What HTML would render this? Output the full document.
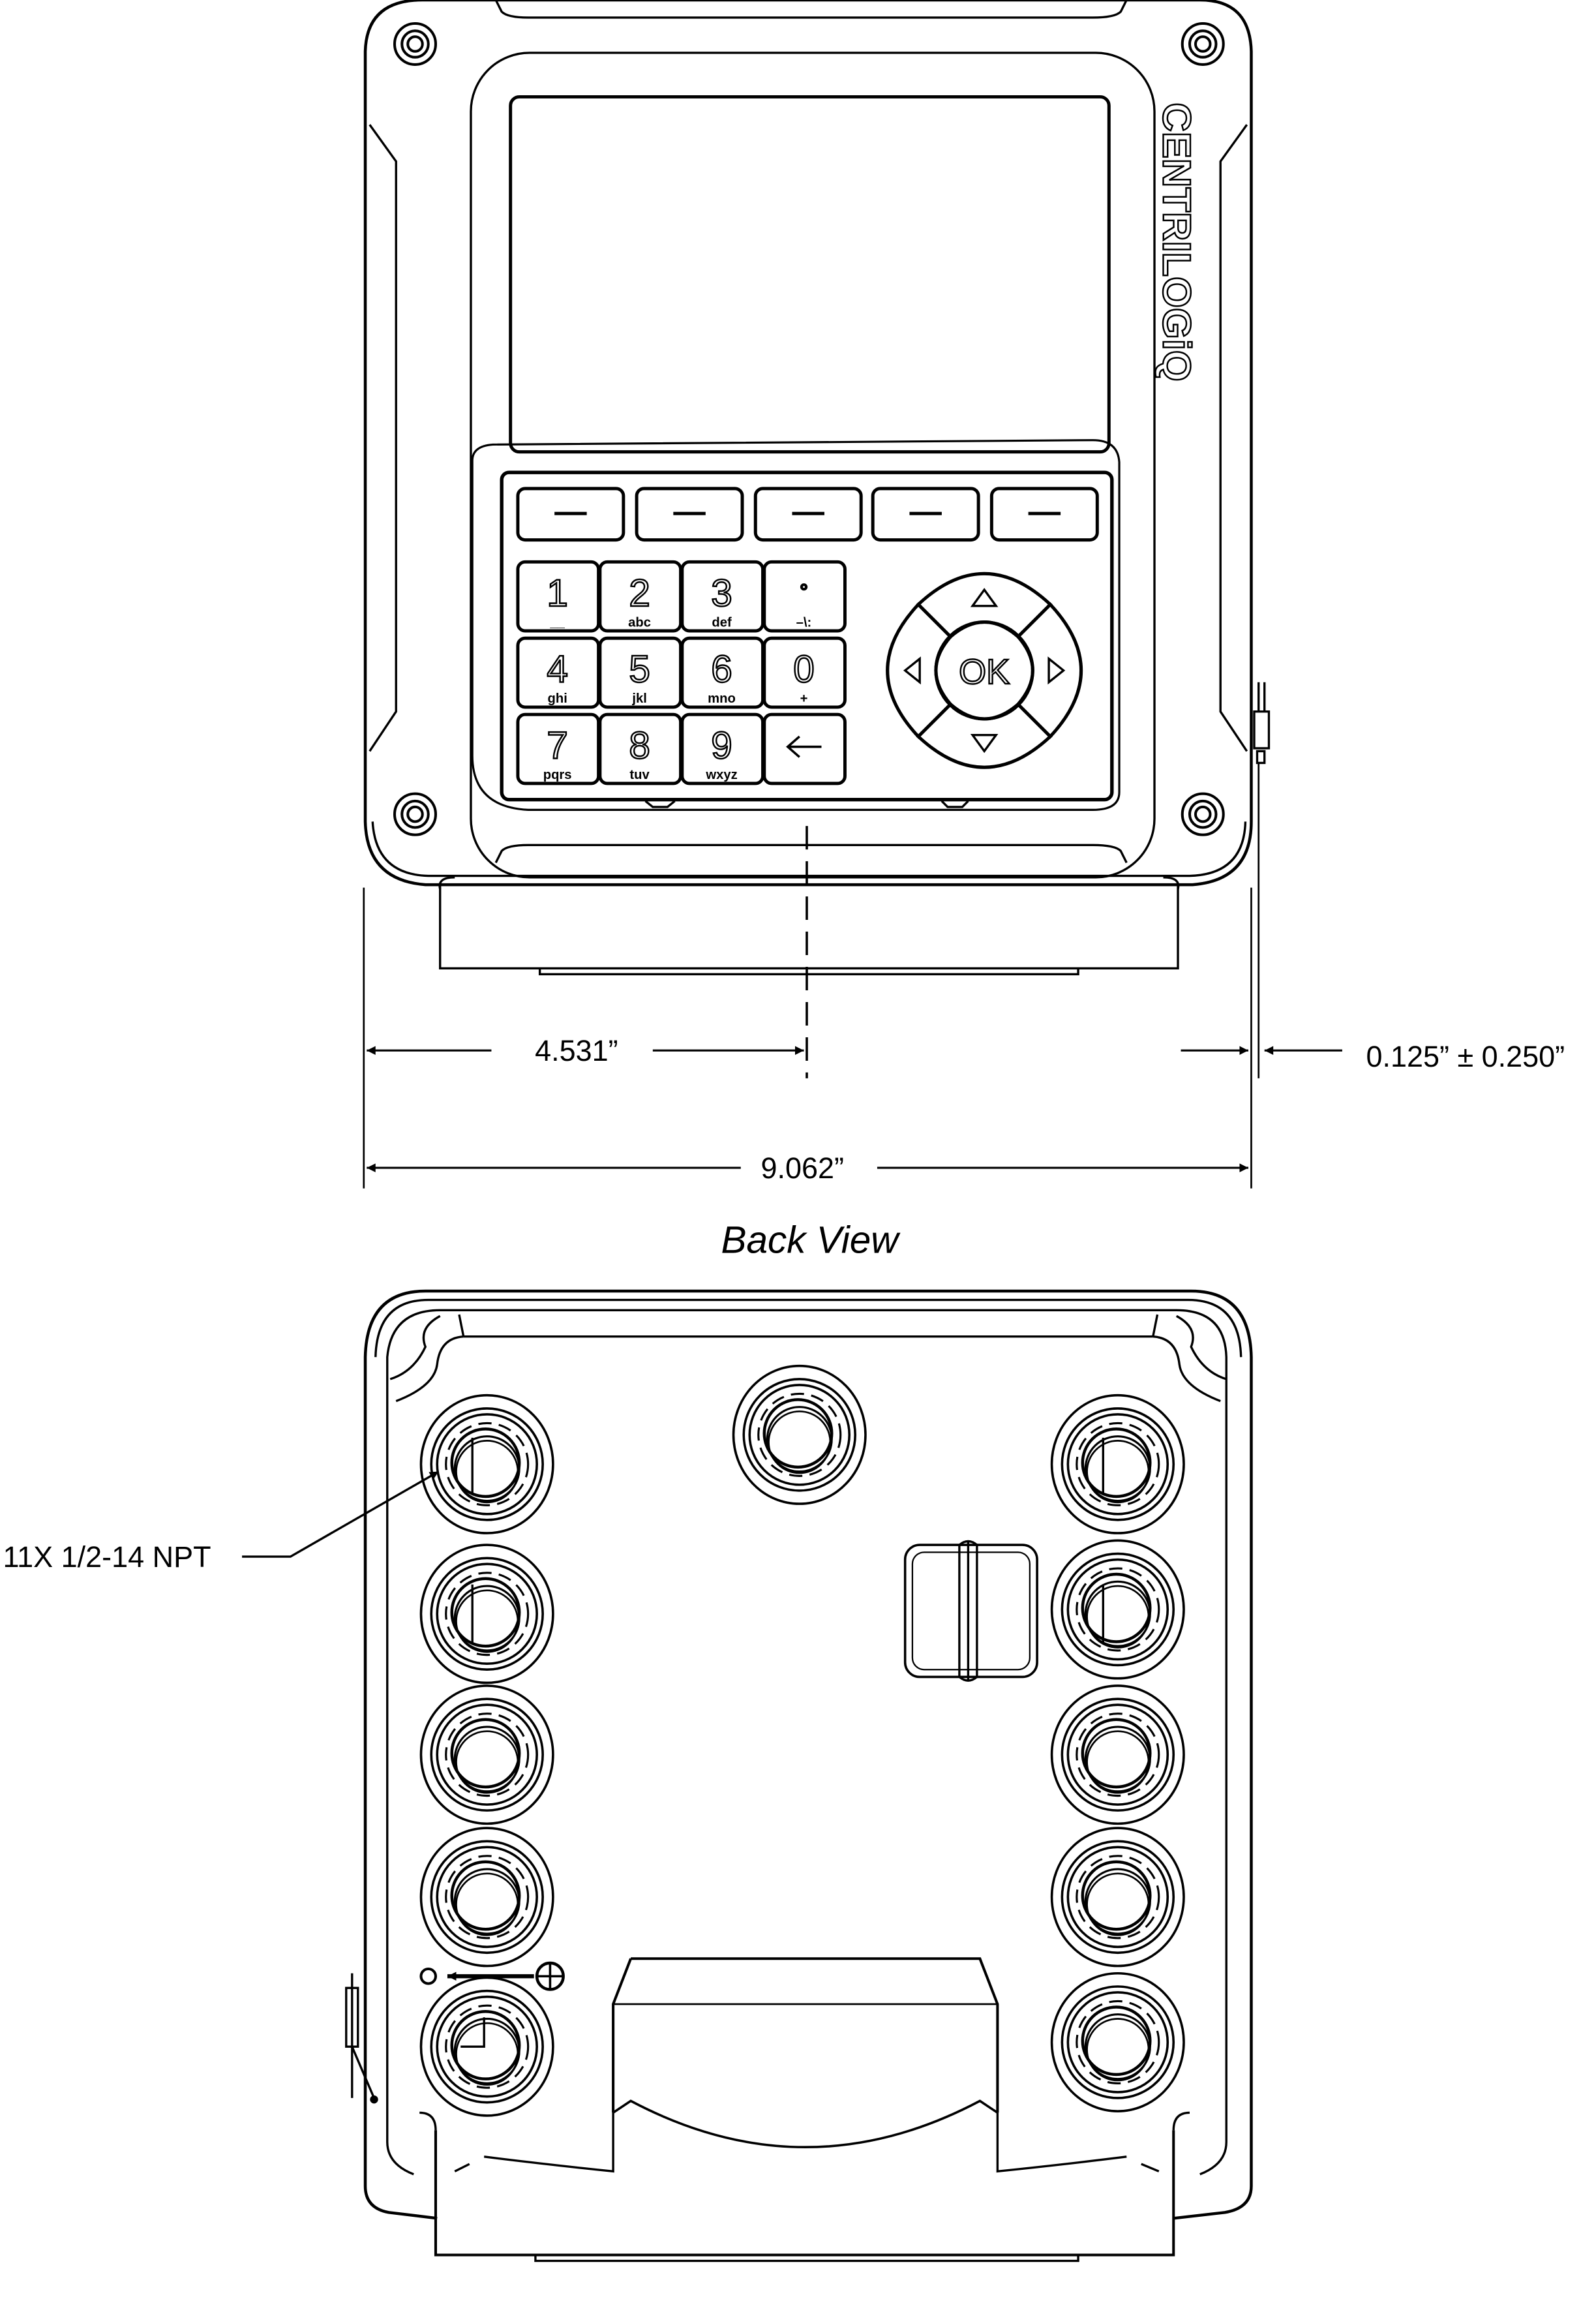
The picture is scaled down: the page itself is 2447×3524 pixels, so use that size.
<!DOCTYPE html>
<html><head><style>
html,body{margin:0;padding:0;background:#fff;}
svg{display:block;}
text{font-family:"Liberation Sans",sans-serif;}
</style></head><body>
<svg width="2447" height="3524" viewBox="0 0 1088 1567" preserveAspectRatio="none" xmlns="http://www.w3.org/2000/svg">
<defs>
<marker id="ar" viewBox="0 0 10 10" refX="10" refY="5" markerWidth="10" markerHeight="6" markerUnits="userSpaceOnUse" orient="auto"><path d="M0,0 L10,5 L0,10z" fill="#000"/></marker>
<g id="conduit" fill="none" stroke="#000">
<ellipse cx="0" cy="0" rx="45" ry="47" stroke-width="1.6"/>
<circle r="38" stroke-width="1.6"/>
<circle r="34" stroke-width="1.6"/>
<circle r="28" stroke-width="1.4" stroke-dasharray="9 5"/>
<circle cx="-1" cy="-1" r="23" stroke-width="2"/>
<circle cx="0" cy="3" r="22" stroke-width="1.4"/>
<circle cx="0" cy="5" r="21" stroke-width="1.2"/>
</g>
</defs>
<rect width="1088" height="1567" fill="#fff"/>
<g fill="none" stroke="#000" stroke-width="1.5">
<path d="M288,0 L818,0 Q852,0 853,35 L853,560 Q853,600 813,603 L290,603 Q250,600 249,560 L249,35 Q250,0 288,0z" stroke-width="2"/>
<path d="M254,560 Q256,596 292,597 L811,597 Q848,596 849,560" />
<path d="M338,0 L342,8 Q346,12 360,12 L745,12 Q760,12 764,8 L768,0"/>
<path d="M252,85 L270,110 L270,485 L252,512"/>
<path d="M850,85 L832,110 L832,485 L850,512"/>
<rect x="321" y="36" width="466" height="562" rx="40" stroke-width="1.5"/>
<rect x="348" y="66" width="408" height="242" rx="6" stroke-width="2.2"/>
<path d="M322,314 Q322,304 336,303 L745,300 Q762,300 763,315 L763,540 Q763,552 745,552 L360,552 Q322,550 322,515z" stroke-width="1.4"/>
<rect x="342" y="322" width="416" height="223" rx="5" stroke-width="2.4"/>
<path d="M338,588 L342,580 Q346,576 360,576 L745,576 Q760,576 764,580 L768,588"/>
<path d="M300,603 L300,660 L803,660 L803,603" />
<path d="M300,606 Q298,598 310,598 M803,606 Q805,598 793,598"/>
<path d="M368,660 L368,664 L735,664 L735,660"/>
<path d="M440,546 L445,550 L455,550 L460,546 M642,546 L646,550 L656,550 L660,546"/>
<g stroke-width="1.8">
<circle cx="283" cy="30" r="14"/><circle cx="283" cy="30" r="9"/><circle cx="283" cy="30" r="5"/>
<circle cx="820" cy="30" r="14"/><circle cx="820" cy="30" r="9"/><circle cx="820" cy="30" r="5"/>
<circle cx="283" cy="555" r="14"/><circle cx="283" cy="555" r="9"/><circle cx="283" cy="555" r="5"/>
<circle cx="820" cy="555" r="14"/><circle cx="820" cy="555" r="9"/><circle cx="820" cy="555" r="5"/>
</g>
<g stroke-width="2.2">
<rect x="353" y="333" width="72" height="35" rx="5"/><path d="M378,350 L400,350"/>
<rect x="434" y="333" width="72" height="35" rx="5"/><path d="M459,350 L481,350"/>
<rect x="515" y="333" width="72" height="35" rx="5"/><path d="M540,350 L562,350"/>
<rect x="595" y="333" width="72" height="35" rx="5"/><path d="M620,350 L642,350"/>
<rect x="676" y="333" width="72" height="35" rx="5"/><path d="M701,350 L723,350"/>
</g>
<g stroke-width="2.2">
<rect x="353" y="383" width="55" height="47" rx="5"/><rect x="409" y="383" width="55" height="47" rx="5"/><rect x="465" y="383" width="55" height="47" rx="5"/><rect x="521" y="383" width="55" height="47" rx="5"/>
<rect x="353" y="435" width="55" height="47" rx="5"/><rect x="409" y="435" width="55" height="47" rx="5"/><rect x="465" y="435" width="55" height="47" rx="5"/><rect x="521" y="435" width="55" height="47" rx="5"/>
<rect x="353" y="487" width="55" height="47" rx="5"/><rect x="409" y="487" width="55" height="47" rx="5"/><rect x="465" y="487" width="55" height="47" rx="5"/><rect x="521" y="487" width="55" height="47" rx="5"/>
</g>
<path d="M537,509 L560,509 M545,502 L537,509 L545,516" stroke-width="1.6"/>
<g stroke-width="2.2">
<circle cx="671" cy="457" r="33"/>
<path d="M626,412 Q671,370 716,412 L694,434 Q671,414 648,434z"/>
<path d="M626,502 Q671,544 716,502 L694,480 Q671,500 648,480z"/>
<path d="M626,412 Q584,457 626,502 L648,480 Q628,457 648,434z"/>
<path d="M716,412 Q758,457 716,502 L694,480 Q714,457 694,434z"/>
</g>
<g stroke-width="1.5">
<path d="M663,413 L671,402 L679,413z"/><path d="M663,501 L671,512 L679,501z"/>
<path d="M627,449 L617,457 L627,465z"/><path d="M715,449 L725,457 L715,465z"/>
</g>
<path d="M858,465 L858,485 M862,465 L862,485 M855,485 L865,485 L865,510 L855,510z M857,512 L862,512 L862,520 L857,520z"/>
<path d="M858,520 L858,735" stroke-width="1.2"/>
<path d="M550,563 L550,735" stroke-dasharray="16 8" stroke-width="1.6"/>
<path d="M248,605 L248,810 M853,605 L853,810" stroke-width="1.2"/>
<path d="M335,716 L250,716" stroke-width="1.4" marker-end="url(#ar)"/>
<path d="M445,716 L548,716" stroke-width="1.4" marker-end="url(#ar)"/>
<path d="M805,716 L851,716" stroke-width="1.4" marker-end="url(#ar)"/>
<path d="M915,716 L862,716" stroke-width="1.4" marker-end="url(#ar)"/>
<path d="M505,796 L250,796" stroke-width="1.4" marker-end="url(#ar)"/>
<path d="M598,796 L851,796" stroke-width="1.4" marker-end="url(#ar)"/>

<path d="M290,880 L812,880 Q852,880 853,925 L853,1490 Q853,1505 835,1508 L800,1512 M290,880 Q250,880 249,925 L249,1490 Q249,1505 265,1508 L298,1512" stroke-width="2"/>
<path d="M292,886 L810,886 Q845,886 846,925 M292,886 Q257,886 256,925"/>
<path d="M300,893 L802,893 Q835,893 836,925 L836,1460 Q836,1475 818,1482 M300,893 Q267,893 264,925 L264,1460 Q264,1475 282,1482"/>
<path d="M316,911 L786,911 M316,911 L313,896 M786,911 L789,896"/>
<path d="M316,911 Q300,912 298,930 Q296,945 270,955 M786,911 Q802,912 804,930 Q806,945 832,955"/>
<path d="M300,897 Q285,905 290,918 Q282,935 266,940 M802,897 Q817,905 812,918 Q820,935 836,940"/>
<use href="#conduit" x="332" y="998"/>
<use href="#conduit" x="332" y="1100"/>
<use href="#conduit" x="332" y="1196"/>
<use href="#conduit" x="332" y="1293"/>
<use href="#conduit" x="332" y="1395"/>
<use href="#conduit" x="762" y="998"/>
<use href="#conduit" x="762" y="1097"/>
<use href="#conduit" x="762" y="1196"/>
<use href="#conduit" x="762" y="1293"/>
<use href="#conduit" x="762" y="1392"/>
<use href="#conduit" x="545" y="978"/>
<path d="M322,980 L322,1018 M322,1080 L322,1120 M752,980 L752,1018 M752,1080 L752,1120 M314,1395 L330,1395 L330,1375"/>
<rect x="617" y="1053" width="90" height="90" rx="10" stroke-width="1.6"/>
<rect x="622" y="1058" width="80" height="80" rx="8" stroke-width="1"/>
<path d="M654,1053 Q660,1048 666,1053 L666,1143 Q660,1148 654,1143z M660,1050 L660,1146"/>
<circle cx="292" cy="1347" r="5" stroke-width="1.8"/>
<circle cx="375" cy="1347" r="9" stroke-width="2"/>
<path d="M375,1338 L375,1356 M366,1347 L384,1347" stroke-width="1.6"/>
<path d="M364,1347 L305,1347" stroke-width="2.8" marker-end="url(#ar)"/>
<path d="M430,1335 L668,1335 L680,1366 L680,1440 M430,1335 L418,1366 L418,1440" stroke-width="1.8"/>
<path d="M418,1366 L680,1366" stroke-width="1.2"/>
<path d="M418,1440 L430,1432 Q549,1495 668,1432 L680,1440" stroke-width="1.6"/>
<path d="M418,1440 L418,1480 Q370,1475 330,1470 M680,1440 L680,1480 Q728,1475 768,1470"/>
<path d="M297,1452 L297,1537 L800,1537 L800,1452" stroke-width="1.8"/>
<path d="M297,1452 Q297,1440 286,1440 M800,1452 Q800,1440 811,1440"/>
<path d="M310,1480 L320,1475 M790,1480 L778,1475"/>
<path d="M365,1537 L365,1541 L735,1541 L735,1537"/>
<path d="M240,1345 L240,1430 M236,1355 L244,1355 L244,1395 L236,1395z M240,1395 L255,1430"/>
<circle cx="255" cy="1431" r="2" fill="#000"/>
<path d="M165,1061 L198,1061 L299,1003" stroke-width="1.5" marker-end="url(#ar)"/>
</g>
<g font-family="Liberation Sans, sans-serif" text-anchor="middle" fill="#fff" stroke="#000" stroke-width="1.1">
<text x="380" y="413" font-size="26">1</text>
<text x="436" y="413" font-size="26">2</text>
<text x="492" y="413" font-size="26">3</text>
<text x="548" y="408" font-size="14">°</text>
<text x="380" y="465" font-size="26">4</text>
<text x="436" y="465" font-size="26">5</text>
<text x="492" y="465" font-size="26">6</text>
<text x="548" y="465" font-size="26">0</text>
<text x="380" y="517" font-size="26">7</text>
<text x="436" y="517" font-size="26">8</text>
<text x="492" y="517" font-size="26">9</text>
<text x="671" y="466" font-size="24">OK</text>
</g>
<g font-family="Liberation Sans, sans-serif" text-anchor="middle" font-size="9" font-weight="bold" fill="#000">
<text x="380" y="427">__</text><text x="436" y="427">abc</text><text x="492" y="427">def</text><text x="548" y="427">–\:</text>
<text x="380" y="479">ghi</text><text x="436" y="479">jkl</text><text x="492" y="479">mno</text><text x="548" y="479">+</text>
<text x="380" y="531">pqrs</text><text x="436" y="531">tuv</text><text x="492" y="531">wxyz</text>
</g>
<text transform="translate(793,70) rotate(90)" font-size="27" fill="#fff" stroke="#000" stroke-width="1.1" font-weight="bold" textLength="190" lengthAdjust="spacingAndGlyphs">CENTRILOGiQ</text>
<g font-size="20" fill="#000">
<text x="393" y="723" text-anchor="middle">4.531”</text>
<text x="999" y="727" text-anchor="middle">0.125” ± 0.250”</text>
<text x="547" y="803" text-anchor="middle">9.062”</text>
<text x="552" y="854" text-anchor="middle" font-size="26" font-style="italic">Back View</text>
<text x="2" y="1068" font-size="20">11X 1/2-14 NPT</text>
</g>
</svg>
</body></html>
